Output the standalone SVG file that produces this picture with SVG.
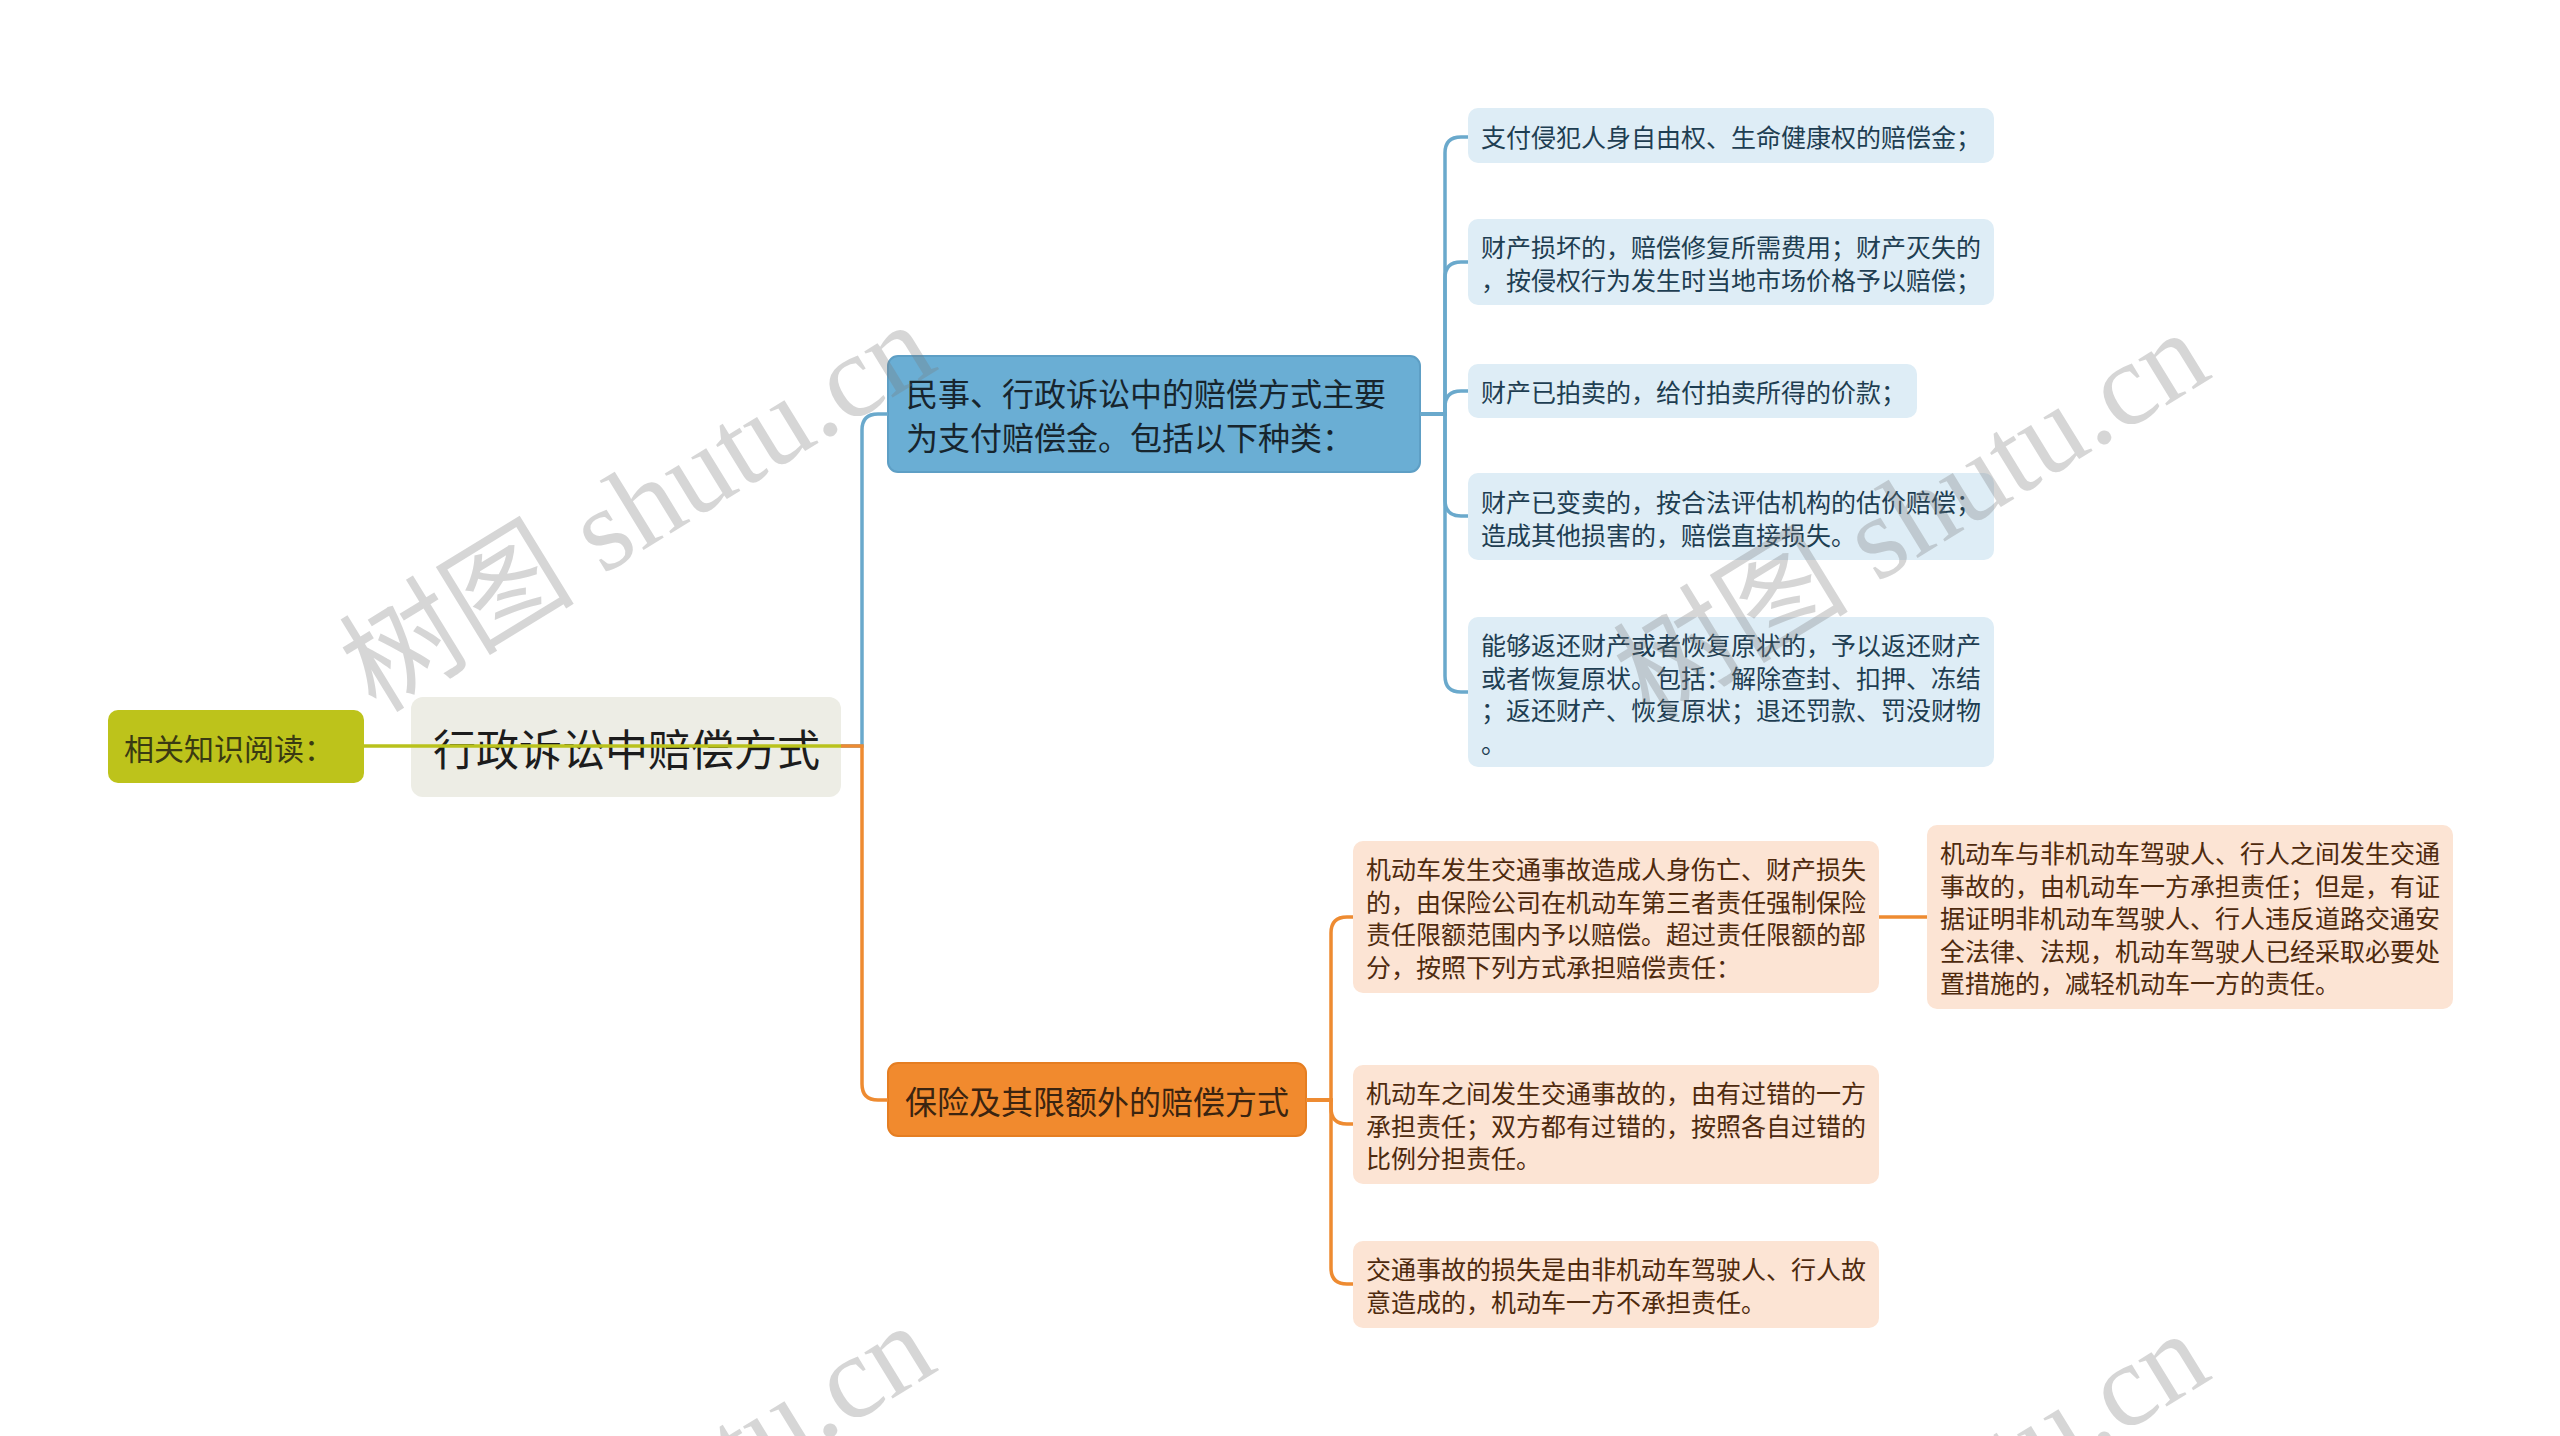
<svg xmlns="http://www.w3.org/2000/svg" width="2560" height="1436" viewBox="0 0 2560 1436">
<defs>
<style>
.t{font-family:"Noto Sans CJK SC","Noto Sans",sans-serif;dominant-baseline:central}
.leaf-b rect{fill:#DEEDF6}
.leaf-b text{fill:#1E3E52;font-size:25px}
.leaf-o rect{fill:#FCE4D4}
.leaf-o text{fill:#4E2A0E;font-size:25px}
.cb{fill:none;stroke:#6AA9CC;stroke-width:3.5}
.co{fill:none;stroke:#EE8B31;stroke-width:3.5}
.cg{fill:none;stroke:#B9C21C;stroke-width:3.5}
.wm{font-family:"Liberation Serif","Noto Sans CJK SC",serif;font-size:118px;fill:#7a7a7a;opacity:0.3}
</style>
</defs>
<rect width="2560" height="1436" fill="#FFFFFF"/>

<g id="node-left">
<rect x="108" y="710" width="256" height="73" rx="10" fill="#BDC31B"/>
<text class="t" x="124" y="747" font-size="30" fill="#3A3A12">相关知识阅读：</text>
</g>

<g id="node-root">
<rect x="411" y="697" width="430" height="100" rx="12" fill="#EDEDE5"/>
<text class="t" x="433" y="747" font-size="43" fill="#1C1C1C">行政诉讼中赔偿方式</text>
</g>

<g id="node-blue">
<rect x="888" y="356" width="532" height="116" rx="10" fill="#6AAED4" stroke="#5E9FC5" stroke-width="2"/>
<text class="t" x="906" y="392" font-size="32" fill="#17252E">民事、行政诉讼中的赔偿方式主要</text>
<text class="t" x="906" y="436" font-size="32" fill="#17252E">为支付赔偿金。包括以下种类：</text>
</g>

<g id="node-orange">
<rect x="888" y="1063" width="418" height="73" rx="10" fill="#F18A2E" stroke="#E57E22" stroke-width="2"/>
<text class="t" x="905" y="1100" font-size="32" fill="#3B2410">保险及其限额外的赔偿方式</text>
</g>

<g id="b1" class="leaf-b">
<rect x="1468" y="108" width="526" height="55" rx="10"/>
<text class="t" x="1481" y="136">支付侵犯人身自由权、生命健康权的赔偿金；</text>
</g>
<g id="b2" class="leaf-b">
<rect x="1468" y="219" width="526" height="86" rx="10"/>
<text class="t" x="1481" y="246">财产损坏的，赔偿修复所需费用；财产灭失的</text>
<text class="t" x="1481" y="279">，按侵权行为发生时当地市场价格予以赔偿；</text>
</g>
<g id="b3" class="leaf-b">
<rect x="1468" y="364" width="449" height="54" rx="10"/>
<text class="t" x="1481" y="391">财产已拍卖的，给付拍卖所得的价款；</text>
</g>
<g id="b4" class="leaf-b">
<rect x="1468" y="473" width="526" height="87" rx="10"/>
<text class="t" x="1481" y="501">财产已变卖的，按合法评估机构的估价赔偿；</text>
<text class="t" x="1481" y="534">造成其他损害的，赔偿直接损失。</text>
</g>
<g id="b5" class="leaf-b">
<rect x="1468" y="617" width="526" height="150" rx="10"/>
<text class="t" x="1481" y="644">能够返还财产或者恢复原状的，予以返还财产</text>
<text class="t" x="1481" y="676.5">或者恢复原状。包括：解除查封、扣押、冻结</text>
<text class="t" x="1481" y="709">；返还财产、恢复原状；退还罚款、罚没财物</text>
<text class="t" x="1481" y="741.5">。</text>
</g>

<g id="o1" class="leaf-o">
<rect x="1353" y="841" width="526" height="152" rx="10"/>
<text class="t" x="1366" y="868">机动车发生交通事故造成人身伤亡、财产损失</text>
<text class="t" x="1366" y="900.5">的，由保险公司在机动车第三者责任强制保险</text>
<text class="t" x="1366" y="933">责任限额范围内予以赔偿。超过责任限额的部</text>
<text class="t" x="1366" y="965.5">分，按照下列方式承担赔偿责任：</text>
</g>
<g id="o1a" class="leaf-o">
<rect x="1927" y="825" width="526" height="184" rx="10"/>
<text class="t" x="1940" y="852">机动车与非机动车驾驶人、行人之间发生交通</text>
<text class="t" x="1940" y="884.5">事故的，由机动车一方承担责任；但是，有证</text>
<text class="t" x="1940" y="917">据证明非机动车驾驶人、行人违反道路交通安</text>
<text class="t" x="1940" y="949.5">全法律、法规，机动车驾驶人已经采取必要处</text>
<text class="t" x="1940" y="982">置措施的，减轻机动车一方的责任。</text>
</g>
<g id="o2" class="leaf-o">
<rect x="1353" y="1065" width="526" height="119" rx="10"/>
<text class="t" x="1366" y="1092">机动车之间发生交通事故的，由有过错的一方</text>
<text class="t" x="1366" y="1124.5">承担责任；双方都有过错的，按照各自过错的</text>
<text class="t" x="1366" y="1157">比例分担责任。</text>
</g>
<g id="o3" class="leaf-o">
<rect x="1353" y="1241" width="526" height="87" rx="10"/>
<text class="t" x="1366" y="1268">交通事故的损失是由非机动车驾驶人、行人故</text>
<text class="t" x="1366" y="1300.5">意造成的，机动车一方不承担责任。</text>
</g>

<g id="connectors">
<path class="cb" d="M841 746 H862 V430 Q862 414 878 414 H888"/>
<path class="co" d="M841 746 H862 V1084 Q862 1100 878 1100 H888"/>
<path class="cg" d="M364 746 H841"/>
<path class="cb" d="M1420 414 H1445 V153 Q1445 137 1461 137 H1468"/>
<path class="cb" d="M1420 414 H1445 V278 Q1445 262 1461 262 H1468"/>
<path class="cb" d="M1420 414 H1445 V407 Q1445 391 1461 391 H1468"/>
<path class="cb" d="M1420 414 H1445 V500 Q1445 516 1461 516 H1468"/>
<path class="cb" d="M1420 414 H1445 V676 Q1445 692 1461 692 H1468"/>
<path class="co" d="M1306 1100 H1331 V933 Q1331 917 1347 917 H1353"/>
<path class="co" d="M1306 1100 H1331 V1108 Q1331 1124 1347 1124 H1353"/>
<path class="co" d="M1306 1100 H1331 V1268 Q1331 1284 1347 1284 H1353"/>
<path class="co" d="M1879 917 H1927"/>
</g>

<g id="watermarks">
<text class="wm" x="376" y="714" transform="rotate(-31.5 376 714)">树图 shutu.cn</text>
<text class="wm" x="1650" y="722" transform="rotate(-31.5 1650 722)">树图 shutu.cn</text>
<text class="wm" x="376" y="1715" transform="rotate(-31.5 376 1715)">树图 shutu.cn</text>
<text class="wm" x="1650" y="1723" transform="rotate(-31.5 1650 1723)">树图 shutu.cn</text>
</g>
</svg>
